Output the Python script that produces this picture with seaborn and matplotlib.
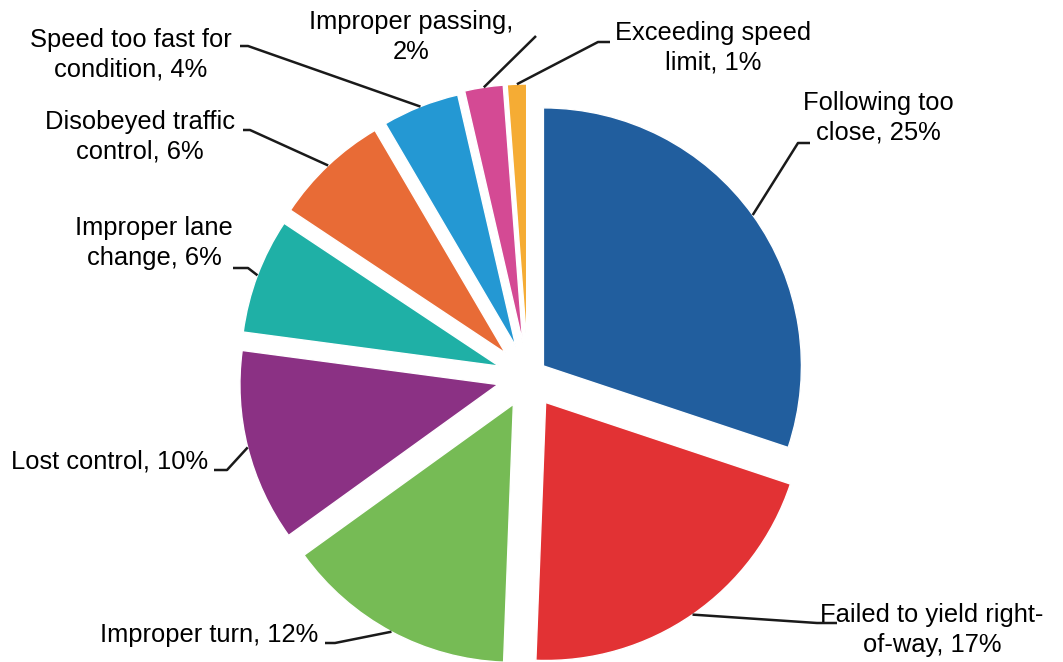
import numpy as np
import seaborn as sns
import matplotlib.pyplot as plt

# data: contributing factors and their share (%)
factors = ['Following too close', 'Failed to yield right-of-way', 'Improper turn',
           'Lost control', 'Improper lane change', 'Disobeyed traffic control',
           'Speed too fast for condition', 'Improper passing', 'Exceeding speed limit']
shares = [25, 17, 12, 10, 6, 6, 4, 2, 1]
label_texts = ['Following too\nclose, 25%', 'Failed to yield right-\nof-way, 17%',
               'Improper turn, 12%', 'Lost control, 10%', 'Improper lane\nchange, 6%',
               'Disobeyed traffic\ncontrol, 6%', 'Speed too fast for\ncondition, 4%',
               'Improper passing,\n2%', 'Exceeding speed\nlimit, 1%']
hex_colors = ['#215E9E', '#E23234', '#76BB55', '#8B3184', '#1FB0A6',
              '#E86B36', '#2498D3', '#D44A94', '#F5AC34']

W, H = 1063, 662
# label layout in pixels (y measured from the top): text centre, elbow, stub end
text_pos = [(878, 118), (932, 630), (209, 635), (110, 461), (154, 243),
            (140, 137), (131, 55), (411, 37), (713, 48)]
elbows = [(798, 143), (817, 623), (335, 643), (227, 470), (248, 268),
          (250, 130), (248, 46), (536, 36), (598, 42)]
stub_ends = [(810, 143), (837, 623), (325, 643), (214, 470), (233, 268),
             (243, 130), (240, 46), (536, 36), (610, 42)]

sns.set_theme(style='white')
plt.rcParams['font.family'] = ['Liberation Sans', 'DejaVu Sans']

fig = plt.figure(figsize=(W / 100, H / 100), dpi=100)
ax = fig.add_axes([0, 0, 1, 1])

colors = sns.color_palette(hex_colors)
explode = [19, 31, 31, 31, 31, 33, 33, 35, 35]
wedges, _ = ax.pie(shares, colors=colors, startangle=90, counterclock=False,
                   center=(528, H - 377), radius=258, explode=explode,
                   wedgeprops=dict(edgecolor='white', linewidth=1))
# pie() resets the limits, so set the pixel frame afterwards
ax.set_xlim(0, W)
ax.set_ylim(0, H)
ax.set_aspect('equal')
ax.axis('off')

for w, txt, tp, el, se in zip(wedges, label_texts, text_pos, elbows, stub_ends):
    th = np.deg2rad((w.theta1 + w.theta2) / 2)
    cx, cy = w.center
    px, py = cx + w.r * np.cos(th), cy + w.r * np.sin(th)
    ax.plot([px, el[0], se[0]], [py, H - el[1], H - se[1]],
            color='#1a1a1a', lw=1.8, solid_capstyle='butt', zorder=3)
    ax.text(tp[0], H - tp[1], txt, ha='center', va='center', fontsize=18.4,
            color='black', linespacing=1.27, zorder=4)

plt.savefig('out.png', dpi=100)
